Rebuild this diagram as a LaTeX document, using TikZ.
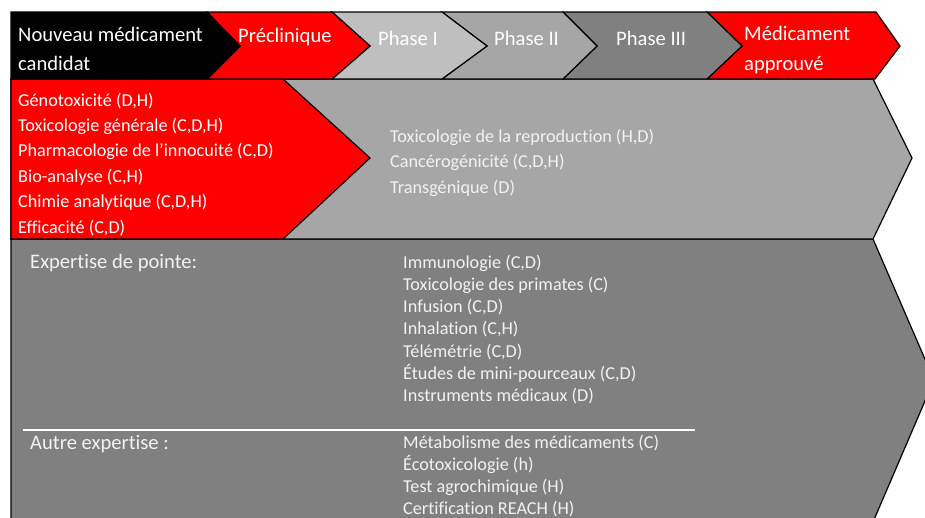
\documentclass[tikz,border=0pt]{standalone}
\usepackage{fontspec}
\setmainfont{Carlito}[Ligatures=NoCommon]
\definecolor{gOne}{HTML}{BFBFBF}
\definecolor{gTwo}{HTML}{A6A6A6}
\definecolor{gThree}{HTML}{808080}
\definecolor{redA}{HTML}{FF0000}
\definecolor{txtA}{HTML}{F2F2F2}
\begin{document}
\begin{tikzpicture}[x=1pt,y=-1pt,
  shp/.style={draw=black, line width=1.2pt, line join=miter},
  head/.style={anchor=base west, inner sep=0pt, text=white, font=\fontsize{20.6}{24}\selectfont},
  item/.style={anchor=base west, inner sep=0pt, text=white, font=\fontsize{18.2}{21}\selectfont},
  gitem/.style={anchor=base west, inner sep=0pt, text=txtA, font=\fontsize{18.2}{21}\selectfont}]
\useasboundingbox (0,0) rectangle (925,517);
\clip (0,0) rectangle (925,517);
% bottom row
\path[shp, fill=gThree] (11,239) -- (873,239) -- (934,380) -- (873,522) -- (11,522) -- cycle;
% middle row
\path[shp, fill=gTwo] (11,79) -- (873,79) -- (912,158) -- (873,239) -- (11,239) -- cycle;
\path[shp, fill=redA] (11,79) -- (283,79) -- (370,158) -- (283,239) -- (11,239) -- cycle;
% top row
\path[shp, fill=redA] (707,12) -- (876,12) -- (900,46) -- (875,79) -- (707,79) -- (742,46) -- cycle;
\path[shp, fill=gThree] (563,12) -- (707,12) -- (742,46) -- (707,79) -- (563,79) -- (597,46) -- cycle;
\path[shp, fill=gTwo] (442,12) -- (563,12) -- (597,46) -- (563,79) -- (442,79) -- (487,46) -- cycle;
\path[shp, fill=gOne] (332,12) -- (442,12) -- (487,46) -- (442,79) -- (332,79) -- (370,46) -- cycle;
\path[shp, fill=redA] (207,12) -- (332,12) -- (370,46) -- (332,79) -- (207,79) -- (240,46) -- cycle;
\path[shp, fill=black] (11,12) -- (207,12) -- (240,46) -- (207,79) -- (11,79) -- cycle;
% separator
\draw[white, line width=1.5pt] (23,430) -- (695,430);
% top labels
\node[head] (n1) at (18,41) {Nouveau médicament};
\node[head] (n2) at (18,70) {candidat};
\node[head] (pc) at (238,42) {Préclinique};
\node[head] (p1) at (378,45) {Phase I};
\node[head] (p2) at (494,45) {Phase II};
\node[head] (p3) at (616,45) {Phase III};
\node[head] (ma) at (744,40) {Médicament};
\node[head] (mb) at (744,70) {approuvé};
% red list
\node[item] (r1) at (18,106) {Génotoxicité (D,H)};
\node[item] (r2) at (18,131.4) {Toxicologie générale (C,D,H)};
\node[item] (r3) at (18,156.8) {Pharmacologie de l’innocuité (C,D)};
\node[item] (r4) at (18,182.2) {Bio-analyse (C,H)};
\node[item] (r5) at (18,207.6) {Chimie analytique (C,D,H)};
\node[item] (r6) at (18,233) {Efficacité (C,D)};
% gray list
\node[gitem] (g1) at (390,142) {Toxicologie de la reproduction (H,D)};
\node[gitem] (g2) at (390,167.5) {Cancérogénicité (C,D,H)};
\node[gitem] (g3) at (390,193) {Transgénique (D)};
% bottom
\node[head, text=txtA] (e1) at (30,268) {Expertise de pointe:};
\node[head, text=txtA] (e2) at (30,449) {Autre expertise :};
\node[gitem] (b1) at (403,268) {Immunologie (C,D)};
\node[gitem] (b2) at (403,290.3) {Toxicologie des primates (C)};
\node[gitem] (b3) at (403,312.6) {Infusion (C,D)};
\node[gitem] (b4) at (403,334.9) {Inhalation (C,H)};
\node[gitem] (b5) at (403,357.2) {Télémétrie (C,D)};
\node[gitem] (b6) at (403,379.5) {Études de mini-pourceaux (C,D)};
\node[gitem] (b7) at (403,401.8) {Instruments médicaux (D)};
\node[gitem] (c1) at (403,448) {Métabolisme des médicaments (C)};
\node[gitem] (c2) at (403,470.3) {Écotoxicologie (h)};
\node[gitem] (c3) at (403,492.6) {Test agrochimique (H)};
\node[gitem] (c4) at (403,514.9) {Certification REACH (H)};
\end{tikzpicture}
\end{document}
